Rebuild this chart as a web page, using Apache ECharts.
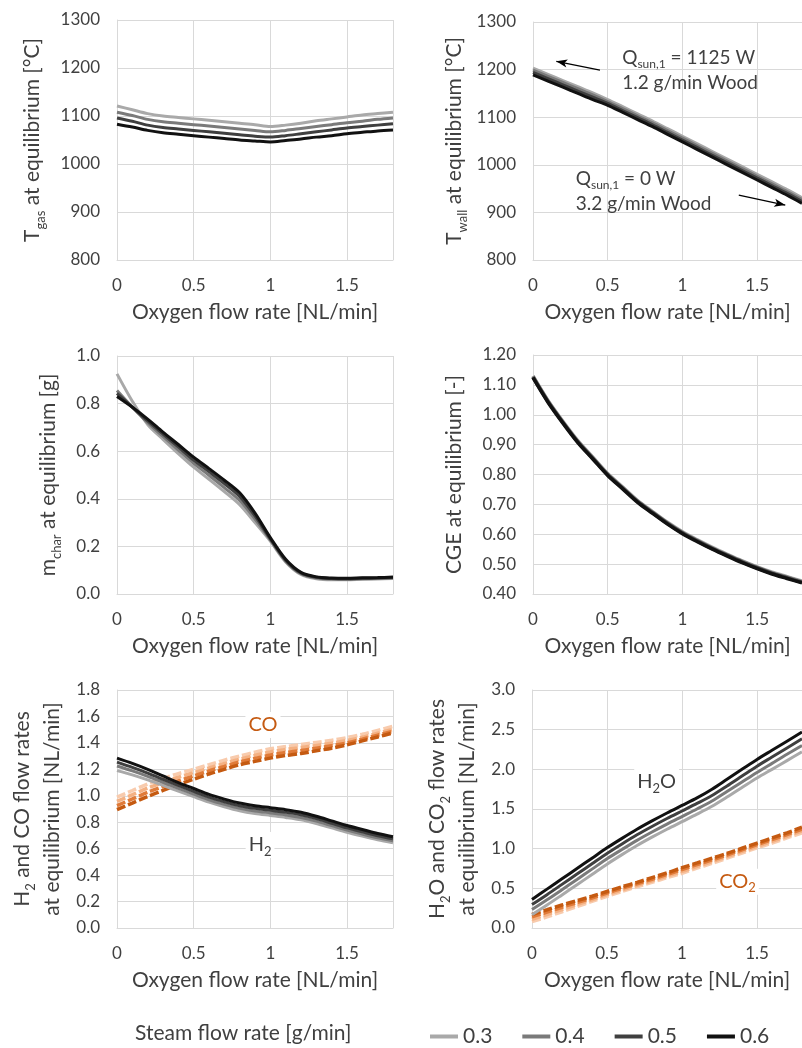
<!DOCTYPE html>
<html>
<head>
<meta charset="utf-8">
<script src="https://cdn.jsdelivr.net/npm/echarts@6/dist/echarts.min.js"></script>
<style>
html,body{margin:0;padding:0;background:#fff;}
#chart{width:802px;height:1048px;}
</style>
</head>
<body>
<div id="chart"></div>
<script>
// ---------- data ----------
const oxygen = [0,0.1,0.2,0.3,0.4,0.5,0.6,0.7,0.8,0.9,1.0,1.1,1.2,1.3,1.4,1.5,1.6,1.7,1.8];
const steamRates = ['0.3','0.4','0.5','0.6'];

const tgas03 = [1121,1113,1105,1100,1097,1094,1091,1088,1085,1082,1078,1081,1085,1090,1094,1098,1102,1105,1108];
const tgas04 = [1108,1101,1093,1088,1085,1082,1079,1076,1073,1070,1067,1070,1074,1078,1082,1086,1089,1093,1096];
const tgas05 = [1096,1089,1081,1076,1073,1070,1067,1064,1061,1058,1056,1059,1063,1067,1071,1075,1078,1081,1084];
const tgas06 = [1083,1077,1070,1065,1062,1059,1056,1053,1050,1048,1046,1049,1052,1056,1059,1063,1066,1069,1071];

const twall03 = [1203,1190,1177,1164,1151,1137,1122,1107,1092,1076,1060,1044,1028,1012,996,980,964,948,931];
const twall04 = [1199,1186,1173,1160,1147,1133,1118,1103,1088,1072,1056,1040,1024,1008,992,976,960,944,927];
const twall05 = [1194,1181,1168,1155,1142,1129,1114,1099,1084,1068,1052,1036,1020,1004,988,972,956,940,923];
const twall06 = [1189,1176,1163,1150,1137,1125,1110,1095,1080,1064,1048,1032,1016,1000,984,968,952,936,919];

const mchar03 = [0.925,0.81,0.712,0.65,0.59,0.533,0.482,0.43,0.375,0.3,0.222,0.135,0.082,0.064,0.06,0.06,0.062,0.063,0.065];
const mchar04 = [0.855,0.785,0.72,0.662,0.605,0.549,0.499,0.447,0.393,0.315,0.227,0.138,0.085,0.067,0.063,0.062,0.064,0.065,0.067];
const mchar05 = [0.843,0.785,0.727,0.672,0.618,0.563,0.514,0.464,0.41,0.328,0.232,0.142,0.088,0.07,0.065,0.064,0.066,0.067,0.069];
const mchar06 = [0.83,0.785,0.735,0.68,0.628,0.575,0.527,0.478,0.425,0.34,0.237,0.146,0.091,0.072,0.067,0.066,0.068,0.069,0.071];

const cge03 = [1.130,1.048,0.978,0.913,0.858,0.803,0.758,0.713,0.676,0.640,0.608,0.581,0.556,0.533,0.511,0.491,0.473,0.458,0.443];
const cge04 = [1.128,1.046,0.976,0.911,0.856,0.801,0.756,0.711,0.674,0.638,0.606,0.579,0.554,0.531,0.509,0.489,0.471,0.456,0.441];
const cge05 = [1.126,1.044,0.974,0.909,0.854,0.799,0.754,0.709,0.672,0.636,0.604,0.577,0.552,0.529,0.507,0.487,0.469,0.454,0.439];
const cge06 = [1.124,1.042,0.972,0.907,0.852,0.797,0.752,0.707,0.670,0.634,0.602,0.575,0.550,0.527,0.505,0.485,0.467,0.452,0.437];

const h2_03 = [1.19,1.158,1.12,1.078,1.035,0.993,0.952,0.917,0.887,0.866,0.851,0.836,0.818,0.79,0.757,0.724,0.695,0.668,0.645];
const h2_04 = [1.225,1.188,1.147,1.102,1.057,1.013,0.97,0.935,0.905,0.885,0.87,0.855,0.836,0.808,0.774,0.74,0.71,0.682,0.659];
const h2_05 = [1.255,1.215,1.172,1.125,1.078,1.033,0.99,0.955,0.925,0.905,0.89,0.875,0.856,0.827,0.792,0.757,0.727,0.698,0.674];
const h2_06 = [1.285,1.245,1.2,1.15,1.1,1.055,1.01,0.975,0.945,0.925,0.91,0.895,0.875,0.845,0.81,0.775,0.745,0.715,0.69];

const co_03 = [0.99,1.04,1.09,1.13,1.168,1.2,1.235,1.27,1.3,1.33,1.355,1.372,1.388,1.404,1.42,1.44,1.465,1.495,1.525];
const co_04 = [0.958,1.008,1.058,1.1,1.14,1.175,1.21,1.245,1.277,1.306,1.332,1.35,1.365,1.381,1.398,1.418,1.443,1.473,1.502];
const co_05 = [0.926,0.976,1.026,1.07,1.112,1.15,1.188,1.222,1.256,1.283,1.308,1.327,1.342,1.36,1.378,1.4,1.428,1.458,1.488];
const co_06 = [0.895,0.945,0.995,1.04,1.085,1.125,1.165,1.2,1.235,1.26,1.285,1.305,1.32,1.34,1.36,1.385,1.415,1.445,1.475];

const h2o_03 = [0.168,0.29,0.417,0.545,0.675,0.805,0.925,1.04,1.145,1.245,1.34,1.435,1.535,1.65,1.77,1.89,2.0,2.11,2.22];
const h2o_04 = [0.232,0.355,0.483,0.612,0.742,0.872,0.99,1.105,1.21,1.31,1.405,1.5,1.6,1.72,1.84,1.96,2.075,2.19,2.30];
const h2o_05 = [0.295,0.42,0.55,0.68,0.81,0.94,1.06,1.175,1.28,1.38,1.475,1.57,1.67,1.79,1.915,2.04,2.155,2.27,2.385];
const h2o_06 = [0.36,0.49,0.62,0.75,0.88,1.01,1.13,1.245,1.35,1.45,1.545,1.64,1.75,1.875,2.0,2.125,2.24,2.355,2.47];

const co2_03 = [0.08,0.14,0.205,0.27,0.335,0.40,0.46,0.52,0.575,0.635,0.69,0.755,0.815,0.88,0.945,1.01,1.07,1.135,1.2];
const co2_04 = [0.11,0.17,0.233,0.295,0.356,0.42,0.48,0.538,0.595,0.655,0.713,0.776,0.837,0.9,0.965,1.03,1.091,1.156,1.223];
const co2_05 = [0.14,0.2,0.262,0.32,0.378,0.44,0.5,0.557,0.615,0.675,0.737,0.798,0.858,0.92,0.985,1.05,1.113,1.178,1.247];
const co2_06 = [0.17,0.23,0.29,0.345,0.40,0.46,0.52,0.575,0.635,0.695,0.76,0.82,0.88,0.94,1.005,1.07,1.135,1.2,1.27];

// ---------- style ----------
const F = 'Lato, "Open Sans", sans-serif';
const TXT = '#404040';
const GRID = '#d9d9d9';
const grays = ['#a9a9a9','#7a7a7a','#3f3f3f','#111111'];
const oranges = ['#f8cbad','#f4b183','#e07b39','#c55a11'];

function pairs(ys){ return oxygen.map((x,i)=>[x, ys[i]]); }

const rich = {
  n: {fontSize: 21, fontFamily: F, color: TXT, lineHeight: 30},
  s: {fontSize: 13, fontFamily: F, color: TXT, verticalAlign: 'bottom', lineHeight: 16}
};

const grids = [
  {left:117, top:20, width:276, height:240},
  {left:533, top:22, width:277, height:238},
  {left:117, top:356, width:276, height:238},
  {left:533, top:355, width:277, height:239},
  {left:117, top:690, width:276, height:238},
  {left:532, top:690, width:277, height:238}
];

const xAxes = grids.map((g,i)=>({
  type:'value', gridIndex:i, min:0, max:1.8, interval:0.5,
  axisLine:{show:true, lineStyle:{color:GRID}}, axisTick:{show:false},
  splitLine:{show:true, lineStyle:{color:GRID, width:1}},
  axisLabel:{fontSize:17, fontFamily:F, color:TXT, margin:17, showMaxLabel:false,
    formatter:v=> (Math.abs(v*2-Math.round(v*2))<1e-6 ? String(v) : '')},
  name:'Oxygen flow rate [NL/min]', nameLocation:'middle', nameGap:42,
  nameTextStyle:{fontSize:21, fontFamily:F, color:TXT}
}));

function yAxis(i, min, max, interval, dec, name, gap){
  return {
    type:'value', gridIndex:i, min, max, interval,
    axisLine:{show:true, lineStyle:{color:GRID}}, axisTick:{show:false},
    splitLine:{show:true, lineStyle:{color:GRID, width:1}},
    axisLabel:{fontSize:17, fontFamily:F, color:TXT, margin:17, formatter:v=>v.toFixed(dec)},
    name, nameLocation:'middle', nameGap:gap,
    nameTextStyle:{fontSize:21, fontFamily:F, color:TXT, rich}
  };
}

const yAxes = [
  yAxis(0, 800, 1300, 100, 0, '{n|T}{s|gas}{n| at equilibrium [°C]}', 70),
  yAxis(1, 800, 1300, 100, 0, '{n|T}{s|wall}{n| at equilibrium [°C]}', 64),
  yAxis(2, 0, 1, 0.2, 1, '{n|m}{s|char}{n| at equilibrium [g]}', 54),
  yAxis(3, 0.4, 1.2, 0.1, 2, '{n|CGE at equilibrium [-]}', 64),
  yAxis(4, 0, 1.8, 0.2, 1, '{n|H}{s|2}{n| and CO flow rates}\n{n|at equilibrium [NL/min]}', 50),
  yAxis(5, 0, 3, 0.5, 1, '{n|H}{s|2}{n|O and CO}{s|2}{n| flow rates}\n{n|at equilibrium [NL/min]}', 50)
];

const grayPanels = [
  [tgas03,tgas04,tgas05,tgas06],
  [twall03,twall04,twall05,twall06],
  [mchar03,mchar04,mchar05,mchar06],
  [cge03,cge04,cge05,cge06],
  [h2_03,h2_04,h2_05,h2_06],
  [h2o_03,h2o_04,h2o_05,h2o_06]
];
const orangePanels = {4:[co_03,co_04,co_05,co_06], 5:[co2_03,co2_04,co2_05,co2_06]};

const series = [];
grayPanels.forEach((sets,p)=>{
  sets.forEach((ys,j)=>{
    series.push({
      type:'line', name:steamRates[j], xAxisIndex:p, yAxisIndex:p,
      data:pairs(ys), symbol:'none', smooth:0.3,
      lineStyle:{width:(p===3?3.5:3), color:grays[j]}, itemStyle:{color:grays[j]}, z:3
    });
  });
});
Object.keys(orangePanels).forEach(k=>{
  const p = +k;
  orangePanels[k].forEach((ys,j)=>{
    series.push({
      type:'line', name:(p===4?'CO ':'CO2 ')+steamRates[j], xAxisIndex:p, yAxisIndex:p,
      data:pairs(ys), symbol:'none', smooth:0.3,
      lineStyle:{width:3.5, color:oranges[j], type:[9,3], cap:'butt'}, itemStyle:{color:oranges[j]}, z:2
    });
  });
});

// annotation helpers
function textMark(coord, text, color){
  return {
    coord, symbol:'circle', symbolSize:0,
    label:{show:true, position:'inside', formatter:text, color, fontFamily:F, fontSize:20,
      backgroundColor:'#fff', padding:[0,3],
      rich:{
        a:{fontSize:20, fontFamily:F, color, lineHeight:26},
        s:{fontSize:13, fontFamily:F, color, verticalAlign:'bottom', lineHeight:14}
      }}
  };
}

// panel 2 annotations (Twall)
const twallIdx = 4;
series[twallIdx].markLine = {
  silent:true, symbol:['none','arrow'], symbolSize:[6,11], animation:false,
  lineStyle:{color:'#000', width:1.3, type:'solid'}, label:{show:false},
  data:[
    [{coord:[0.448,1198.7]},{coord:[0.156,1217.5]}],
    [{coord:[1.377,936.4]},{coord:[1.688,915.4]}]
  ]
};
const annRich = {
  a:{fontSize:19, fontFamily:F, color:TXT, lineHeight:25},
  s:{fontSize:12, fontFamily:F, color:TXT, verticalAlign:'bottom', lineHeight:12}
};
series[twallIdx].markPoint = {
  silent:true, animation:false,
  data:[
    {coord:[0.597,1198.7], symbol:'circle', symbolSize:0,
     label:{show:true, position:'inside', align:'left', verticalAlign:'middle',
       formatter:'{a|Q}{s|sun,1}{a| = 1125 W}\n{a|1.2 g/min Wood}', rich:annRich}},
    {coord:[0.286,943.7], symbol:'circle', symbolSize:0,
     label:{show:true, position:'inside', align:'left', verticalAlign:'middle',
       formatter:'{a|Q}{s|sun,1}{a| = 0 W}\n{a|3.2 g/min Wood}', rich:annRich}}
  ]
};

series[16].markPoint = {silent:true, animation:false, data:[ textMark([0.933,0.628], '{a|H}{s|2}', TXT) ]};
series[24].markPoint = {silent:true, animation:false, data:[ textMark([0.952,1.535], '{a|CO}', '#c55a11') ]};
series[20].markPoint = {silent:true, animation:false, data:[ textMark([0.831,1.842], '{a|H}{s|2}{a|O}', TXT) ]};
series[28].markPoint = {silent:true, animation:false, data:[ textMark([1.37,0.583], '{a|CO}{s|2}', '#c55a11') ]};

const option = {
  animation:false,
  backgroundColor:'#fff',
  title:{text:'Steam flow rate [g/min]', left:130, top:1018,
    textStyle:{fontSize:21, fontWeight:'normal', color:TXT, fontFamily:F}},
  legend:{left:425, top:1021, icon:'rect', itemWidth:28, itemHeight:4, itemGap:30,
    textStyle:{fontSize:21, color:TXT, fontFamily:F},
    data:steamRates.map((n,j)=>({name:n, itemStyle:{color:grays[j]}}))},
  grid:grids,
  xAxis:xAxes,
  yAxis:yAxes,
  series
};

const chart = echarts.init(document.getElementById('chart'), null, {renderer:'canvas'});
chart.setOption(option);
</script>
</body>
</html>
